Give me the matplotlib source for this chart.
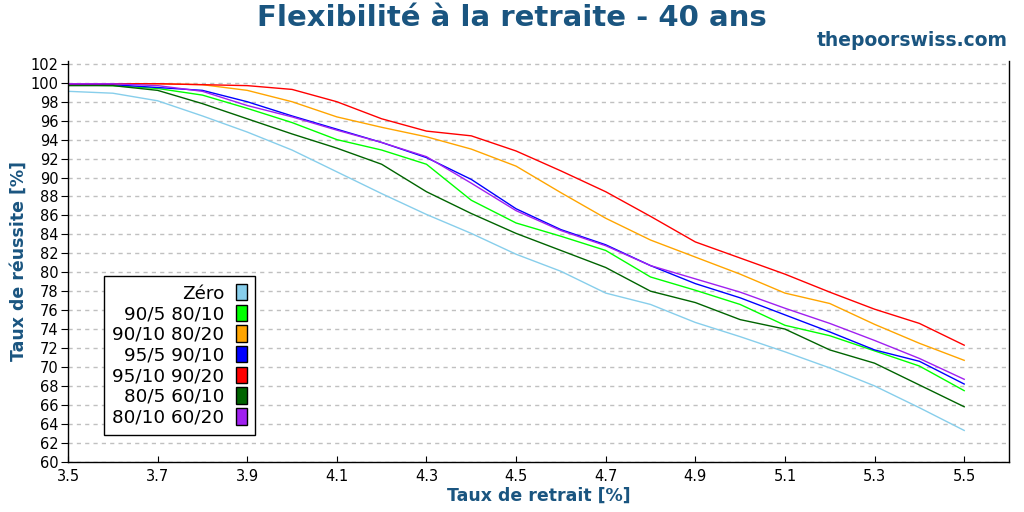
import matplotlib
matplotlib.use("Agg")
import matplotlib.pyplot as plt
from matplotlib.patches import Patch

# ---- data ----
taux_retrait = [3.5, 3.6, 3.7, 3.8, 3.9, 4.0, 4.1, 4.2, 4.3, 4.4, 4.5,
                4.6, 4.7, 4.8, 4.9, 5.0, 5.1, 5.2, 5.3, 5.4, 5.5]

zero = [99.1, 98.9, 98.1, 96.5, 94.8, 92.9, 90.6, 88.3, 86.1, 84.1, 81.9,
        80.1, 77.8, 76.6, 74.7, 73.2, 71.6, 69.9, 68.0, 65.7, 63.3]
s_90_5 = [99.8, 99.7, 99.4, 98.7, 97.3, 95.8, 94.0, 92.9, 91.4, 87.6, 85.2,
          83.8, 82.3, 79.5, 78.1, 76.6, 74.4, 73.3, 71.7, 70.1, 67.5]
s_90_10 = [99.9, 99.9, 99.9, 99.8, 99.2, 98.0, 96.4, 95.3, 94.3, 93.0, 91.2,
           88.4, 85.7, 83.4, 81.6, 79.8, 77.8, 76.7, 74.5, 72.5, 70.7]
s_95_5 = [99.85, 99.8, 99.5, 99.2, 98.0, 96.5, 95.1, 93.7, 92.1, 89.8, 86.7,
          84.5, 82.9, 80.7, 78.8, 77.3, 75.5, 73.7, 71.8, 70.6, 68.2]
s_95_10 = [99.9, 99.9, 99.9, 99.8, 99.7, 99.3, 98.0, 96.2, 94.9, 94.4, 92.8,
           90.7, 88.5, 85.9, 83.2, 81.5, 79.8, 77.9, 76.1, 74.6, 72.3]
s_80_5 = [99.7, 99.7, 99.2, 97.8, 96.2, 94.6, 93.1, 91.4, 88.5, 86.2, 84.1,
          82.3, 80.5, 78.0, 76.8, 75.0, 74.0, 71.8, 70.4, 68.1, 65.8]
s_80_10 = [99.9, 99.9, 99.7, 99.1, 97.6, 96.4, 95.0, 93.7, 92.2, 89.4, 86.5,
           84.4, 82.8, 80.7, 79.3, 77.9, 76.2, 74.6, 72.8, 70.9, 68.7]

labels = ["Zéro", "90/5 80/10", "90/10 80/20", "95/5 90/10",
          "95/10 90/20", "80/5 60/10", "80/10 60/20"]
series = [zero, s_90_5, s_90_10, s_95_5, s_95_10, s_80_5, s_80_10]
colors = ["#87CEEB", "#00FF00", "#FFA500", "#0000FF", "#FF0000",
          "#006400", "#A020F0"]

y_ticks = list(range(60, 103, 2))
x_ticks = [3.5, 3.7, 3.9, 4.1, 4.3, 4.5, 4.7, 4.9, 5.1, 5.3, 5.5]

title_color = "#1a5580"

fig = plt.figure(figsize=(10.24, 5.12), dpi=100)
ax = fig.add_axes([68 / 1024, 1 - 461.7 / 512, (1009 - 68) / 1024, (461.7 - 61) / 512])

for s, c in zip(series, colors):
    ax.plot(taux_retrait, s, color=c, lw=1.0)

ax.set_xlim(3.5, 5.6)
ax.set_ylim(60, 102.3)
ax.set_xticks(x_ticks)
ax.set_xticklabels([f"{v:.1f}" for v in x_ticks])
ax.set_yticks(y_ticks)
ax.tick_params(axis="x", direction="in", length=4, labelsize=10.5, pad=5)
ax.tick_params(axis="y", direction="out", length=5, labelsize=10.5, pad=2)
ax.yaxis.grid(True, color="#c0c0c0", linestyle=(0, (3, 3)), lw=1.0)
ax.set_axisbelow(True)
ax.spines["top"].set_visible(False)
for sp in ["left", "bottom", "right"]:
    ax.spines[sp].set_linewidth(1.0)

ax.set_xlabel("Taux de retrait [%]", fontsize=12.5, fontweight="bold",
              color=title_color, labelpad=2)
ax.set_ylabel("Taux de réussite [%]", fontsize=12.5, fontweight="bold",
              color=title_color, labelpad=2)

handles = [Patch(facecolor=c, edgecolor="black", lw=1.0) for c in colors]
leg = ax.legend(handles, labels, loc="lower left", bbox_to_anchor=(0.038, 0.067),
                borderaxespad=0, markerfirst=False, fontsize=13.2,
                handlelength=0.6, handleheight=1.0, handletextpad=0.65,
                labelspacing=0.12, fancybox=False, framealpha=1,
                edgecolor="black", borderpad=0.45)
leg.get_frame().set_linewidth(1.0)

fig.text(0.5, 1 - 18 / 512, "Flexibilité à la retraite - 40 ans", ha="center",
         va="center", fontsize=21, fontweight="bold", color=title_color)
fig.text(1008 / 1024, 1 - 40 / 512, "thepoorswiss.com", ha="right", va="center",
         fontsize=13.5, fontweight="bold", color=title_color)

fig.savefig("out.png", dpi=100)
